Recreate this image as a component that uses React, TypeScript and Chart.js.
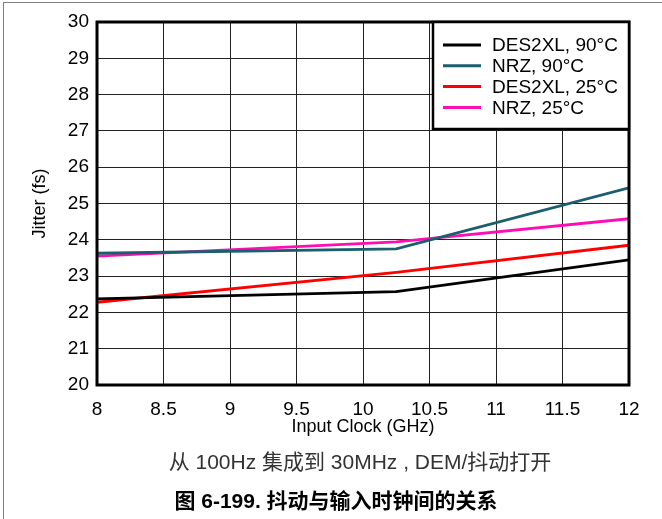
import React, { useEffect, useRef } from "react";
import { Chart, registerables } from "chart.js";

Chart.register(...registerables);

const clockGHz = [8, 10.25, 12];
const des2xl90 = [22.37, 22.57, 23.45];
const nrz90 = [23.63, 23.75, 25.43];
const des2xl25 = [22.28, 23.1, 23.85];
const nrz25 = [23.55, 23.94, 24.58];

const seriesNames = ["DES2XL, 90°C", "NRZ, 90°C", "DES2XL, 25°C", "NRZ, 25°C"];
const seriesValues = [des2xl90, nrz90, des2xl25, nrz25];
const seriesColors = ["#000000", "#1b5f6e", "#ff0000", "#ff0db4"];

const xMin = 8, xMax = 12, xStep = 0.5;
const yMin = 20, yMax = 30, yStep = 1;

const xTitle = "Input Clock (GHz)";
const yTitle = "Jitter (fs)";
const caption1 = "从 100Hz 集成到 30MHz , DEM/抖动打开";
const caption2 = "图 6-199. 抖动与输入时钟间的关系";

const FONT = "'Liberation Sans', Arial, sans-serif";

const framePlugin = {
  id: "framePlugin",
  afterDatasetsDraw(chart: any) {
    const { ctx, chartArea: a } = chart;
    ctx.save();
    ctx.strokeStyle = "#000";
    ctx.lineWidth = 3;
    ctx.strokeRect(a.left, a.top, a.right - a.left, a.bottom - a.top);
    // legend
    const w = 196, h = 107;
    const lx = a.right - w, ly = a.top;
    ctx.fillStyle = "#fff";
    ctx.fillRect(lx, ly, w, h);
    ctx.lineWidth = 2.5;
    ctx.strokeRect(lx, ly, w, h);
    ctx.font = `19px ${FONT}`;
    ctx.textBaseline = "middle";
    ctx.textAlign = "left";
    chart.data.datasets.forEach((ds: any, i: number) => {
      const y = ly + 23 + i * 20.8;
      ctx.strokeStyle = ds.borderColor;
      ctx.lineWidth = 3;
      ctx.beginPath();
      ctx.moveTo(lx + 10, y);
      ctx.lineTo(lx + 48, y);
      ctx.stroke();
      ctx.fillStyle = "#000";
      ctx.fillText(ds.label, lx + 59, y + 1);
    });
    ctx.restore();
  },
};

export default function App() {
  const ref = useRef<HTMLCanvasElement>(null);
  useEffect(() => {
    const ctx = ref.current!.getContext("2d")!;
    const chart = new Chart(ctx, {
      type: "line",
      data: {
        datasets: seriesNames.map((name, i) => ({
          label: name,
          data: clockGHz.map((x, j) => ({ x, y: seriesValues[i][j] })),
          borderColor: seriesColors[i],
          backgroundColor: seriesColors[i],
          borderWidth: 2.8,
          pointRadius: 0,
          tension: 0,
        })),
      },
      options: {
        responsive: false,
        animation: false,
        events: [],
        layout: { padding: { left: 0, top: 22, right: 33, bottom: 81 } },
        plugins: { legend: { display: false }, tooltip: { enabled: false } },
        scales: {
          x: {
            type: "linear",
            min: xMin,
            max: xMax,
            afterFit: (s: any) => { s.height = 53; },
            ticks: {
              stepSize: xStep,
              padding: 13,
              color: "#000",
              font: { family: FONT, size: 19 },
              maxRotation: 0,
              autoSkip: false,
              callback: (v: any) => String(Math.round(Number(v) * 10) / 10),
            },
            grid: { color: "#222", lineWidth: 1, drawTicks: false },
            border: { display: false },
            title: {
              display: true,
              text: xTitle,
              color: "#000",
              font: { family: FONT, size: 18 },
              padding: { top: 0, bottom: 0 },
            },
          },
          y: {
            type: "linear",
            min: yMin,
            max: yMax,
            afterFit: (s: any) => { s.width = 97; },
            ticks: {
              stepSize: yStep,
              padding: 8,
              color: "#000",
              font: { family: FONT, size: 19 },
            },
            grid: { color: "#222", lineWidth: 1, drawTicks: false },
            border: { display: false },
            title: {
              display: true,
              text: yTitle,
              color: "#000",
              font: { family: FONT, size: 18 },
              padding: { top: 29, bottom: 0 },
            },
          },
        },
      },
      plugins: [framePlugin],
    });
    return () => chart.destroy();
  }, []);

  return (
    <div style={{ position: "absolute", left: 0, top: 0, width: 662, height: 519, overflow: "hidden", background: "#fff" }}>
      <div style={{ position: "absolute", left: 3, top: 2, width: 700, height: 600, borderTop: "1px solid #808080", borderLeft: "1px solid #808080" }} />
      <canvas ref={ref} width={662} height={519} style={{ position: "absolute", left: 0, top: 0 }} />
      <div style={{ position: "absolute", left: 360 - 300, top: 449, width: 600, textAlign: "center", fontFamily: "'Liberation Sans', 'Noto Sans CJK SC', sans-serif", fontSize: 21, color: "#333", lineHeight: "26px", whiteSpace: "nowrap" }}>{caption1}</div>
      <div style={{ position: "absolute", left: 336 - 300, top: 488, width: 600, textAlign: "center", fontFamily: "'Liberation Sans', 'Noto Sans CJK SC', sans-serif", fontSize: 21, fontWeight: "bold", color: "#000", lineHeight: "26px", whiteSpace: "nowrap" }}>{caption2}</div>
    </div>
  );
}
